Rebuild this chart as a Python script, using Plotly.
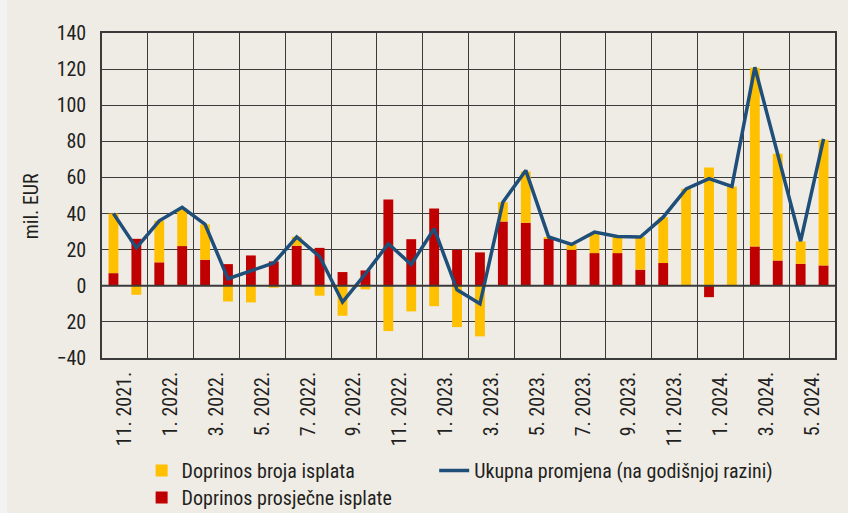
import plotly.graph_objects as go

months = ["11. 2021.", "12. 2021.", "1. 2022.", "2. 2022.", "3. 2022.", "4. 2022.", "5. 2022.", "6. 2022.",
          "7. 2022.", "8. 2022.", "9. 2022.", "10. 2022.", "11. 2022.", "12. 2022.", "1. 2023.", "2. 2023.",
          "3. 2023.", "4. 2023.", "5. 2023.", "6. 2023.", "7. 2023.", "8. 2023.", "9. 2023.", "10. 2023.",
          "11. 2023.", "12. 2023.", "1. 2024.", "2. 2024.", "3. 2024.", "4. 2024.", "5. 2024.", "6. 2024."]

tick_labels = ["11. 2021.", "1. 2022.", "3. 2022.", "5. 2022.", "7. 2022.", "9. 2022.", "11. 2022.", "1. 2023.",
               "3. 2023.", "5. 2023.", "7. 2023.", "9. 2023.", "11. 2023.", "1. 2024.", "3. 2024.", "5. 2024."]

doprinos_broja = [33, -5, 23, 21, 19.6, -8.7, -9.2, -1.1, 5, -5.5, -16.6, -2, -25.1, -14.2, -11.3, -22.9,
                  -28, 10.7, 28.4, 0.5, 3, 11, 8.9, 18.1, 25.4, 53.7, 65.5, 55, 98.9, 59.1, 12.4, 69.6]

doprinos_prosjecne = [7, 26, 13, 22, 14.4, 12, 16.8, 13.5, 22.2, 21, 7.6, 8.5, 47.8, 25.8, 42.8, 19.9,
                      18.5, 35.6, 34.9, 26.2, 19.9, 18.1, 18.1, 8.9, 12.6, 0, -6.3, 0, 21.8, 14, 12.2, 11.3]

ukupna_promjena = [40, 21, 36, 43.5, 34, 3.9, 8.3, 12.6, 27, 16.2, -9, 6.6, 23.3, 11.8, 31.6, -2.2,
                   -10, 46.3, 63.9, 27, 22.9, 29.7, 27.3, 27, 38, 53.7, 59.3, 55, 121, 73, 24.7, 81.4]

y_ticks = [-40, -20, 0, 20, 40, 60, 80, 100, 120, 140]
y_tick_text = ["\u221240", "20", "0", "20", "40", "60", "80", "100", "120", "140"]

FONT = "Liberation Sans Narrow, Arial Narrow, Roboto Condensed, Liberation Sans, sans-serif"
BG = "#EFECE6"
GRID = "#3a3a3a"
TXT = "#231F20"

x = list(range(len(months)))
label_pos = [i + 0.5 for i in range(0, len(months), 2)]
vgrid = [i - 0.5 for i in range(2, len(months), 2)]

fig = go.Figure()
fig.add_trace(go.Bar(x=x, y=doprinos_prosjecne, name="Doprinos prosječne isplate",
                     marker=dict(color="#C00000", line=dict(width=0)), width=0.43,
                     legend="legend3", customdata=months))
fig.add_trace(go.Bar(x=x, y=doprinos_broja, name="Doprinos broja isplata",
                     marker=dict(color="#FFC000", line=dict(width=0)), width=0.43,
                     legend="legend", customdata=months))
fig.add_trace(go.Scatter(x=x, y=ukupna_promjena, name="Ukupna promjena (na godišnjoj razini)",
                         mode="lines", line=dict(color="#1F4E79", width=3.5),
                         legend="legend2", customdata=months))

leg_common = dict(xref="container", yref="container", xanchor="left", yanchor="top", orientation="v",
                  bgcolor="rgba(0,0,0,0)", font=dict(family=FONT, size=20, color=TXT))

fig.update_layout(
    width=848, height=513, autosize=False,
    margin=dict(l=102, r=13, t=33, b=155, autoexpand=False),
    paper_bgcolor=BG, plot_bgcolor=BG,
    barmode="relative",
    font=dict(family=FONT, size=20, color=TXT),
    showlegend=True,
    legend=dict(x=0.167, y=0.121, **leg_common),
    legend3=dict(x=0.167, y=0.068, **leg_common),
    legend2=dict(x=0.512, y=0.121, **leg_common),
    xaxis=dict(range=[-0.5, len(months) - 0.5], tickmode="array", tickvals=label_pos, ticktext=tick_labels,
               tickangle=-90, showgrid=False, ticks="", ticklabelstandoff=4, automargin=False,
               showline=True, linecolor=GRID, linewidth=1.5, mirror=True, zeroline=False,
               tickfont=dict(family=FONT, size=20, color=TXT),
               minor=dict(tickmode="array", tickvals=vgrid, showgrid=True, gridcolor=GRID, gridwidth=1.2, ticks="")),
    yaxis=dict(range=[-40, 140], tickmode="array", tickvals=y_ticks, ticktext=y_tick_text,
               showgrid=True, gridcolor=GRID, gridwidth=1.2, ticks="", ticklabelstandoff=10, automargin=False,
               zeroline=False,
               showline=True, linecolor=GRID, linewidth=1.5, mirror=True,
               tickfont=dict(family=FONT, size=20, color=TXT)),
    shapes=[dict(type="rect", xref="paper", yref="paper", x0=-0.2, x1=(7 - 102) / 733, y0=-1, y1=1.2,
                 fillcolor="#F3F3F3", line=dict(width=0), layer="below"),
            dict(type="line", xref="paper", yref="y", x0=0, x1=1, y0=0, y1=0,
                 line=dict(color=GRID, width=2), layer="above")],
    annotations=[dict(text="mil. EUR", xref="paper", yref="paper", x=(31 - 102) / 733, y=0.467,
                      xanchor="center", yanchor="middle",
                      textangle=-90, showarrow=False, font=dict(family=FONT, size=20, color=TXT))],
)

fig.write_html(
    "out.html",
    config={"responsive": False, "displayModeBar": False},
    post_script="var d=document.getElementById('{plot_id}');d.style.position='absolute';"
                "d.style.left='0px';d.style.top='0px';",
)
